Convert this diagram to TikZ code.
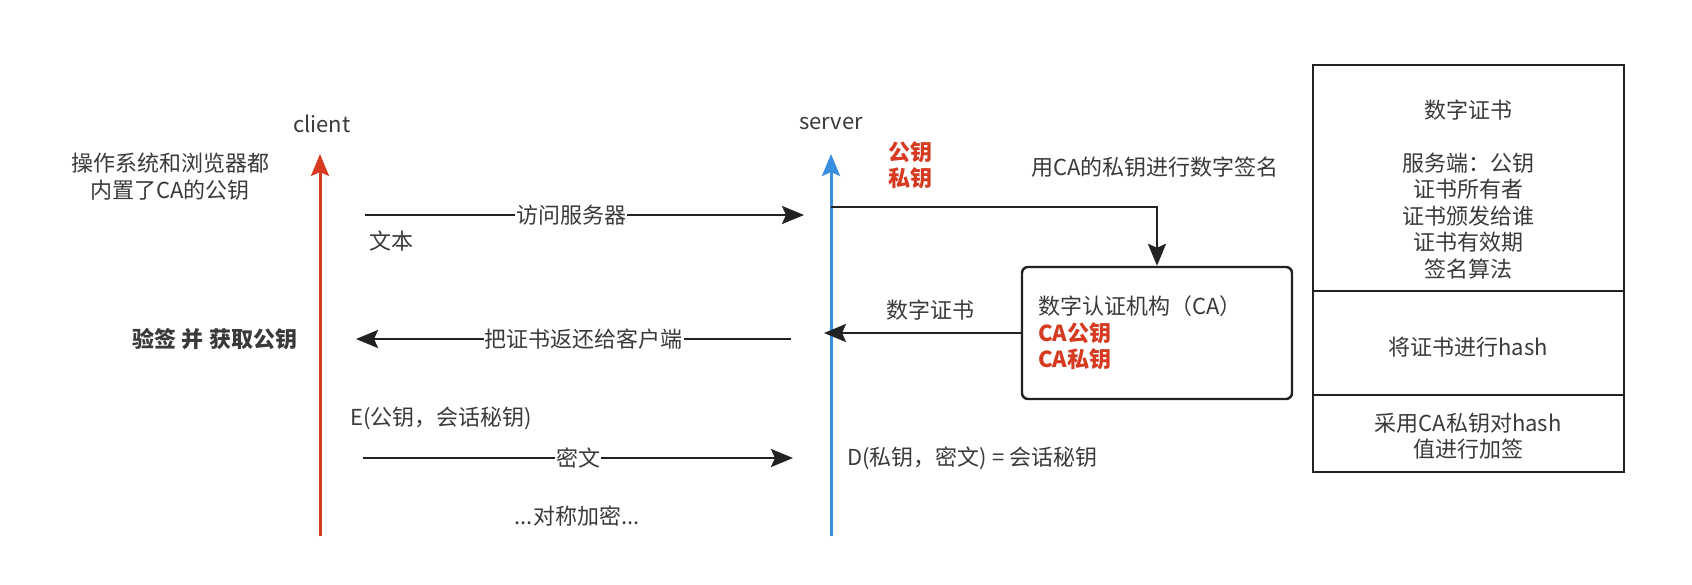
\documentclass[tikz,border=0pt]{standalone}
\usepackage{fontspec}
\setmainfont{Noto Sans CJK SC}
\usetikzlibrary{arrows.meta}
\definecolor{txtc}{HTML}{3A3A3A}
\definecolor{linec}{HTML}{222222}
\definecolor{redc}{HTML}{D63B22}
\definecolor{bluec}{HTML}{3A8EE0}
\begin{document}
\begin{tikzpicture}[x=1pt,y=-1pt,
  font=\fontsize{22}{26.5}\selectfont, text=txtc,
  tip/.style={-{Stealth[length=22pt,width=18pt,inset=4pt]}},
  msg/.style={tip, draw=linec, line width=2.6pt},
  life/.style={tip, line width=3pt},
  lbl/.style={fill=white, inner sep=1pt},
  plain/.style={inner sep=0pt, align=center},
  redbold/.style={inner sep=0pt, text=redc, font=\fontsize{22}{26.5}\selectfont\bfseries, align=left},
  cell/.style={draw=linec, line width=2pt, minimum width=311pt, inner sep=0pt},
]
\useasboundingbox (0,0) rectangle (1692,584);
\fill[white] (0,0) rectangle (1692,584);

% lifelines
\node[plain] (client) at (322,124) {client};
\node[plain] (server) at (831,124) {server};
\coordinate (cTop) at (320,154);
\coordinate (cBot) at (320,536);
\coordinate (sTop) at (831,154);
\coordinate (sBot) at (831,536);
\draw[life, draw=redc, color=redc] (cBot) -- (cTop);
\draw[life, draw=bluec, color=bluec] (sBot) -- (sTop);

% client notes
\node[plain] (osnote) at (170,176.5) {操作系统和浏览器都\\内置了CA的公钥};
\node[plain, font=\fontsize{22}{26.5}\selectfont\bfseries] (verify) at (215,339) {验签 并 获取公钥};

% server keys
\node[redbold] (skeys) at (910,165) {公钥\\私钥};

% request
\coordinate (a1s) at (365,215);
\coordinate (a1e) at (804,215);
\draw[msg] (a1s) -- node[lbl, pos=0.47] (visit) {访问服务器} (a1e);
\node[plain] (plaintext) at (391,241) {文本};

% CA box
\node[draw=linec, line width=2.4pt, rounded corners=6pt, minimum width=270pt, minimum height=132pt,
      text width=238pt, inner xsep=16pt, align=left] (ca) at (1157,333)
  {数字认证机构（CA）\\{\bfseries\color{redc}CA公钥}\\{\bfseries\color{redc}CA私钥}};

% sign route
\coordinate (r0) at (831,207);
\draw[msg] (r0) -| (ca.north);
\node[plain] (signlbl) at (1155,167) {用CA的私钥进行数字签名};

% cert back to server
\coordinate (caout) at (ca.west);
\coordinate (srvin) at (824,333);
\draw[msg] (caout) -- (srvin);
\node[plain] (certlbl) at (930,310) {数字证书};

% cert back to client
\coordinate (b1s) at (791,339);
\coordinate (b1e) at (356,339);
\draw[msg] (b1s) -- node[lbl, pos=0.476] (giveback) {把证书返还给客户端} (b1e);

% key exchange
\node[plain, anchor=west] (enc) at (350,418) {E(公钥，会话秘钥)};
\coordinate (c1s) at (363,458);
\coordinate (c1e) at (793,458);
\draw[msg] (c1s) -- node[lbl, pos=0.5] (cipher) {密文} (c1e);
\node[plain, anchor=west] (dec) at (847,458) {D(私钥，密文) = 会话秘钥};
\node[plain] (sym) at (577,516) {...对称加密...};

% certificate structure table
\node[cell, minimum height=226pt] (cell1) at (1468,178) {};
\node[cell, minimum height=104pt] (cell2) at (1468,343) {};
\node[cell, minimum height=77pt] (cell3) at (1468,433.5) {};
\node[plain] (certinfo) at (1468,189.5) {数字证书\\[26.5pt]服务端：公钥\\证书所有者\\证书颁发给谁\\证书有效期\\签名算法};
\node[plain] (hashtxt) at (1468,347) {将证书进行hash};
\node[plain] (signtxt) at (1468,436) {采用CA私钥对hash\\值进行加签};
\end{tikzpicture}
\end{document}
